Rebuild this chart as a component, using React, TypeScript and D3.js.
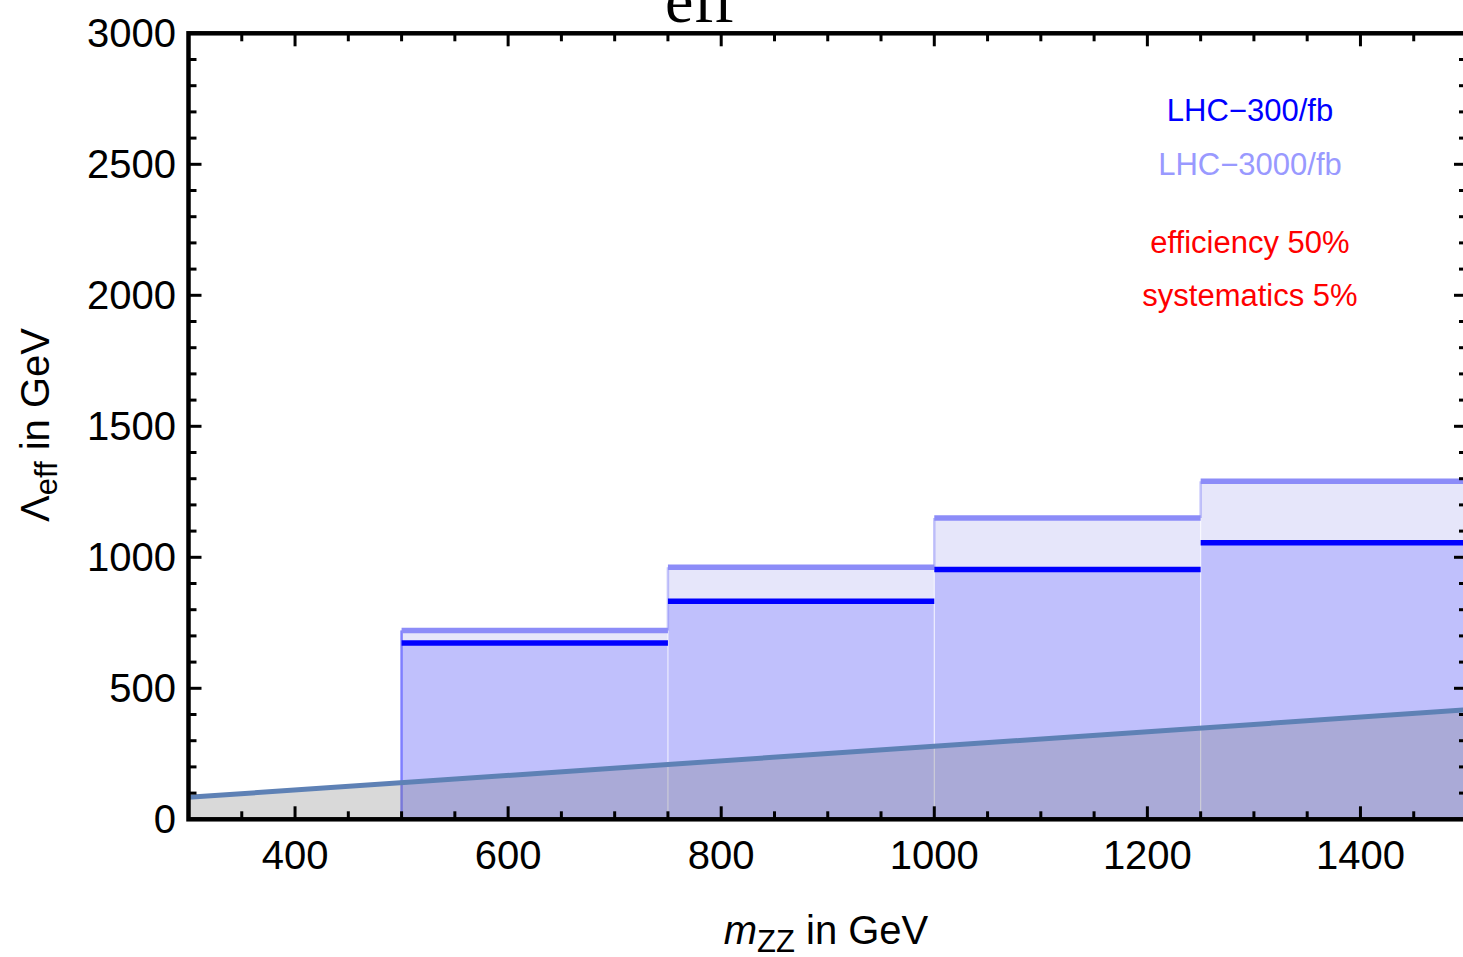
import React from 'react';
import * as d3 from 'd3';

// bin edges in m_ZZ (GeV) and the Lambda_eff reach in each bin
const binEdges = [500, 750, 1000, 1250, 1500];
const lhc300 = [673, 832, 953, 1056];
const lhc3000 = [721, 962, 1150, 1290];
// lower bound line (Lambda = m_ZZ * const) at its two ends
const boundM = [300, 1500];
const boundLambda = [84, 418];

const xTicks = [400, 600, 800, 1000, 1200, 1400];
const yTicks = [0, 500, 1000, 1500, 2000, 2500, 3000];

const legend = [
  { label: 'LHC\u2212300/fb', color: '#0000ff', y: 121 },
  { label: 'LHC\u22123000/fb', color: '#9999ff', y: 175 },
  { label: 'efficiency 50%', color: '#ff0000', y: 253 },
  { label: 'systematics 5%', color: '#ff0000', y: 306 },
];

const W = 1463;
const H = 957;

const App = () => {
  const x = d3.scaleLinear().domain([300, 1500]).range([188.5, 1467]);
  const y = d3.scaleLinear().domain([0, 3000]).range([819.3, 33.3]);

  const bins = lhc300.map((v, i) => ({ x0: binEdges[i], x1: binEdges[i + 1], lo: v, hi: lhc3000[i] }));

  const boundPts: [number, number][] = boundM.map((m, i) => [m, boundLambda[i]]);
  const boundArea = d3.area<[number, number]>().x(d => x(d[0])).y0(y(0)).y1(d => y(d[1]));
  const boundLine = d3.line<[number, number]>().x(d => x(d[0])).y(d => y(d[1]));

  const xMinor = d3.range(300, 1501, 50).filter(v => v % 200 !== 0);
  const yMinor = d3.range(0, 3001, 100).filter(v => v % 500 !== 0);
  const sans = 'Liberation Sans, Arial, sans-serif';
  const left = x(300), right = x(1500), top = y(3000), bottom = y(0);

  return (
    <svg width={W} height={H} style={{ position: 'absolute', left: 0, top: 0, background: '#fff' }} fontFamily={sans}>
      <text x={700} y={22} textAnchor="middle" fontFamily="Liberation Serif, Times New Roman, serif" fontSize={64}>eff</text>

      {/* 3000/fb fill */}
      {bins.map((b, i) => (
        <rect key={'f3k' + i} x={x(b.x0)} y={y(b.hi)} width={x(b.x1) - x(b.x0)} height={y(0) - y(b.hi)} fill="#e6e6fa" />
      ))}
      {/* 300/fb fill */}
      {bins.map((b, i) => (
        <rect key={'f3' + i} x={x(b.x0)} y={y(b.lo)} width={x(b.x1) - x(b.x0)} height={y(0) - y(b.lo)} fill="#c0c0fc" />
      ))}
      {/* seams between bins */}
      {binEdges.slice(1, -1).map((e, i) => (
        <line key={'s' + i} x1={x(e)} x2={x(e)} y1={y(0)} y2={y(bins[i].hi)} stroke="#ffffff" strokeOpacity={0.7} strokeWidth={1.2} />
      ))}
      {/* step risers */}
      <line x1={x(500)} x2={x(500)} y1={y(0)} y2={y(bins[0].hi)} stroke="#7f7fff" strokeWidth={2.5} />
      {binEdges.slice(1, -1).map((e, i) => (
        <line key={'r' + i} x1={x(e)} x2={x(e)} y1={y(bins[i].hi)} y2={y(bins[i + 1].hi)} stroke="#8c8cf8" strokeOpacity={0.5} strokeWidth={2.5} />
      ))}

      {/* lower bound region */}
      <path d={boundArea(boundPts) || ''} fill="rgb(105,105,105)" fillOpacity={0.25} />
      <path d={boundLine(boundPts) || ''} fill="none" stroke="#5e81b5" strokeWidth={5} />

      {/* step lines */}
      {bins.map((b, i) => (
        <line key={'h3k' + i} x1={x(b.x0)} x2={x(b.x1)} y1={y(b.hi)} y2={y(b.hi)} stroke="#8c8cf8" strokeWidth={5.5} />
      ))}
      {bins.map((b, i) => (
        <line key={'h3' + i} x1={x(b.x0)} x2={x(b.x1)} y1={y(b.lo)} y2={y(b.lo)} stroke="#0000ff" strokeWidth={5.5} />
      ))}

      {/* frame */}
      <rect x={left} y={top} width={right - left} height={bottom - top} fill="none" stroke="#000" strokeWidth={4.5} />
      {xTicks.map(v => (
        <g key={'xt' + v}>
          <line x1={x(v)} x2={x(v)} y1={bottom} y2={bottom - 13} stroke="#000" strokeWidth={3} />
          <line x1={x(v)} x2={x(v)} y1={top} y2={top + 13} stroke="#000" strokeWidth={3} />
          <text x={x(v)} y={869} textAnchor="middle" fontSize={40}>{v}</text>
        </g>
      ))}
      {xMinor.map(v => (
        <g key={'xm' + v}>
          <line x1={x(v)} x2={x(v)} y1={bottom} y2={bottom - 8} stroke="#000" strokeWidth={3} />
          <line x1={x(v)} x2={x(v)} y1={top} y2={top + 8} stroke="#000" strokeWidth={3} />
        </g>
      ))}
      {yTicks.map(v => (
        <g key={'yt' + v}>
          <line x1={left} x2={left + 13} y1={y(v)} y2={y(v)} stroke="#000" strokeWidth={3} />
          <line x1={right} x2={right - 13} y1={y(v)} y2={y(v)} stroke="#000" strokeWidth={3} />
          <text x={176} y={y(v) + 14} textAnchor="end" fontSize={40}>{v}</text>
        </g>
      ))}
      {yMinor.map(v => (
        <g key={'ym' + v}>
          <line x1={left} x2={left + 8} y1={y(v)} y2={y(v)} stroke="#000" strokeWidth={3} />
          <line x1={right} x2={right - 8} y1={y(v)} y2={y(v)} stroke="#000" strokeWidth={3} />
        </g>
      ))}

      {/* axis labels */}
      <text x={826} y={944} textAnchor="middle" fontSize={40}>
        <tspan fontStyle="italic">m</tspan>
        <tspan fontSize={31} dy={8}>ZZ</tspan>
        <tspan dy={-8}> in GeV</tspan>
      </text>
      <text transform="translate(49,425) rotate(-90)" textAnchor="middle" fontSize={40}>
        <tspan>{'\u039b'}</tspan>
        <tspan fontSize={31} dy={8}>eff</tspan>
        <tspan dy={-8}> in GeV</tspan>
      </text>

      {legend.map(l => (
        <text key={l.label} x={1250} y={l.y} textAnchor="middle" fontSize={31} fill={l.color}>{l.label}</text>
      ))}
    </svg>
  );
};

export default App;
